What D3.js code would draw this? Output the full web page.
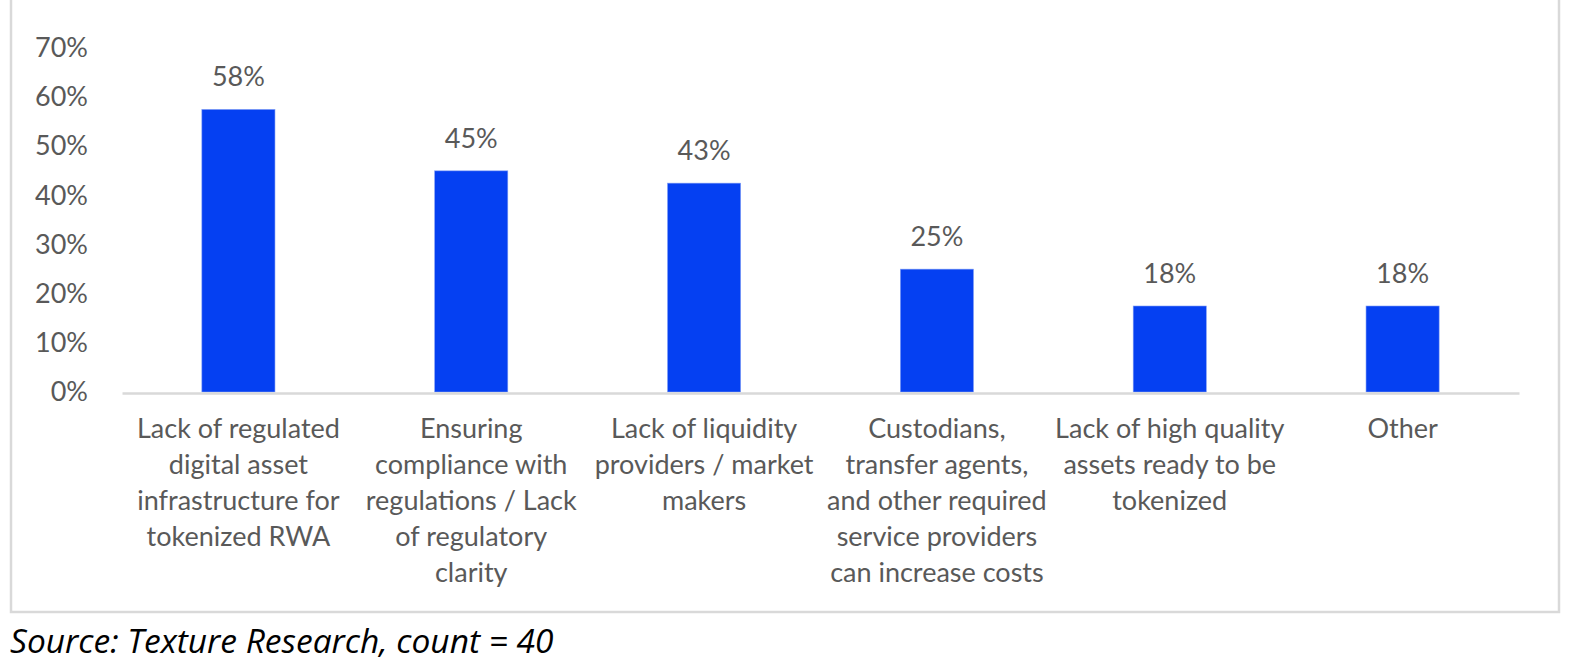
<!DOCTYPE html>
<html>
<head>
<meta charset="utf-8">
<script src="https://cdn.jsdelivr.net/npm/d3@7"></script>
<style>
    html, body { margin: 0; padding: 0; background: #fff; }
    svg { display: block; }
    text { font-family: Lato, "Open Sans", sans-serif; fill: #595959; }
</style>
</head>
<body>
<svg width="1576" height="670"></svg>
<script>

// survey answers, share of respondents (count = 40)
const categories = [
    ['Lack of regulated', 'digital asset', 'infrastructure for', 'tokenized RWA'],
    ['Ensuring', 'compliance with', 'regulations / Lack', 'of regulatory', 'clarity'],
    ['Lack of liquidity', 'providers / market', 'makers'],
    ['Custodians,', 'transfer agents,', 'and other required', 'service providers', 'can increase costs'],
    ['Lack of high quality', 'assets ready to be', 'tokenized'],
    ['Other']
];
const values = [57.5, 45, 42.5, 25, 17.5, 17.5];
const yTicks = [0, 10, 20, 30, 40, 50, 60, 70];
const sourceNote = 'Source: Texture Research, count = 40';

document.addEventListener("DOMContentLoaded", function() {

    const svg = d3.select('svg');
    const blue = '#0540f2';
    const fontSize = 27;

    // outer frame (top edge sits above the visible area)
    svg.append('rect')
        .attr('x', 11).attr('y', -10)
        .attr('width', 1548).attr('height', 622)
        .attr('fill', 'none')
        .attr('stroke', '#d9d9d9')
        .attr('stroke-width', 2.5);

    const keys = categories.map(function(d, i) { return i; });

    const x = d3.scaleBand()
        .domain(keys)
        .range([122, 1519])
        .paddingInner(0.686)
        .paddingOuter(0.343);

    const y = d3.scaleLinear()
        .domain([0, 70])
        .range([392, 48]);

    // y axis labels, no line
    const yAxis = svg.append('g')
        .attr('transform', 'translate(88,0)')
        .call(d3.axisLeft(y).tickValues(yTicks).tickSize(0).tickPadding(0)
            .tickFormat(function(d) { return d + '%'; }));
    yAxis.select('.domain').remove();
    yAxis.selectAll('text')
        .attr('font-family', null)
        .style('font-size', fontSize + 'px')
        .style('fill', '#595959');

    // bars
    svg.selectAll('rect.bar')
        .data(values)
        .enter().append('rect')
            .attr('class', 'bar')
            .attr('x', function(d, i) { return x(i); })
            .attr('width', x.bandwidth())
            .attr('y', function(d) { return y(d); })
            .attr('height', function(d) { return y(0) - y(d); })
            .attr('fill', blue)
            .attr('stroke', '#7f9cf5')
            .attr('stroke-width', 0.6);

    // category axis
    const xAxis = svg.append('g')
        .attr('transform', 'translate(0,' + (y(0) + 1) + ')')
        .call(d3.axisBottom(x).tickSize(0).tickSizeOuter(0).tickFormat(''));
    xAxis.select('.domain')
        .attr('stroke', '#d9d9d9')
        .attr('stroke-width', 2.5);

    xAxis.selectAll('.tick text').each(function(i) {
        const t = d3.select(this)
            .attr('font-family', null)
            .attr('y', 0)
            .attr('dy', null)
            .style('font-size', fontSize + 'px')
            .style('fill', '#595959')
            .attr('text-anchor', 'middle');
        categories[i].forEach(function(line, k) {
            t.append('tspan')
                .attr('x', 0)
                .attr('y', 45 + k * 36)
                .text(line);
        });
    });

    // value labels
    svg.selectAll('text.val')
        .data(values)
        .enter().append('text')
            .attr('class', 'val')
            .attr('x', function(d, i) { return x(i) + x.bandwidth() / 2; })
            .attr('y', function(d) { return y(d) - 23; })
            .attr('text-anchor', 'middle')
            .style('font-size', fontSize + 'px')
            .text(function(d) { return Math.round(d) + '%'; });

    // source note
    svg.append('text')
        .attr('x', 10)
        .attr('y', 653)
        .style('font-family', '"Open Sans", sans-serif')
        .style('font-size', '33.5px')
        .style('font-style', 'italic')
        .style('fill', '#000')
        .text(sourceNote);

});
</script>
</body>
</html>
